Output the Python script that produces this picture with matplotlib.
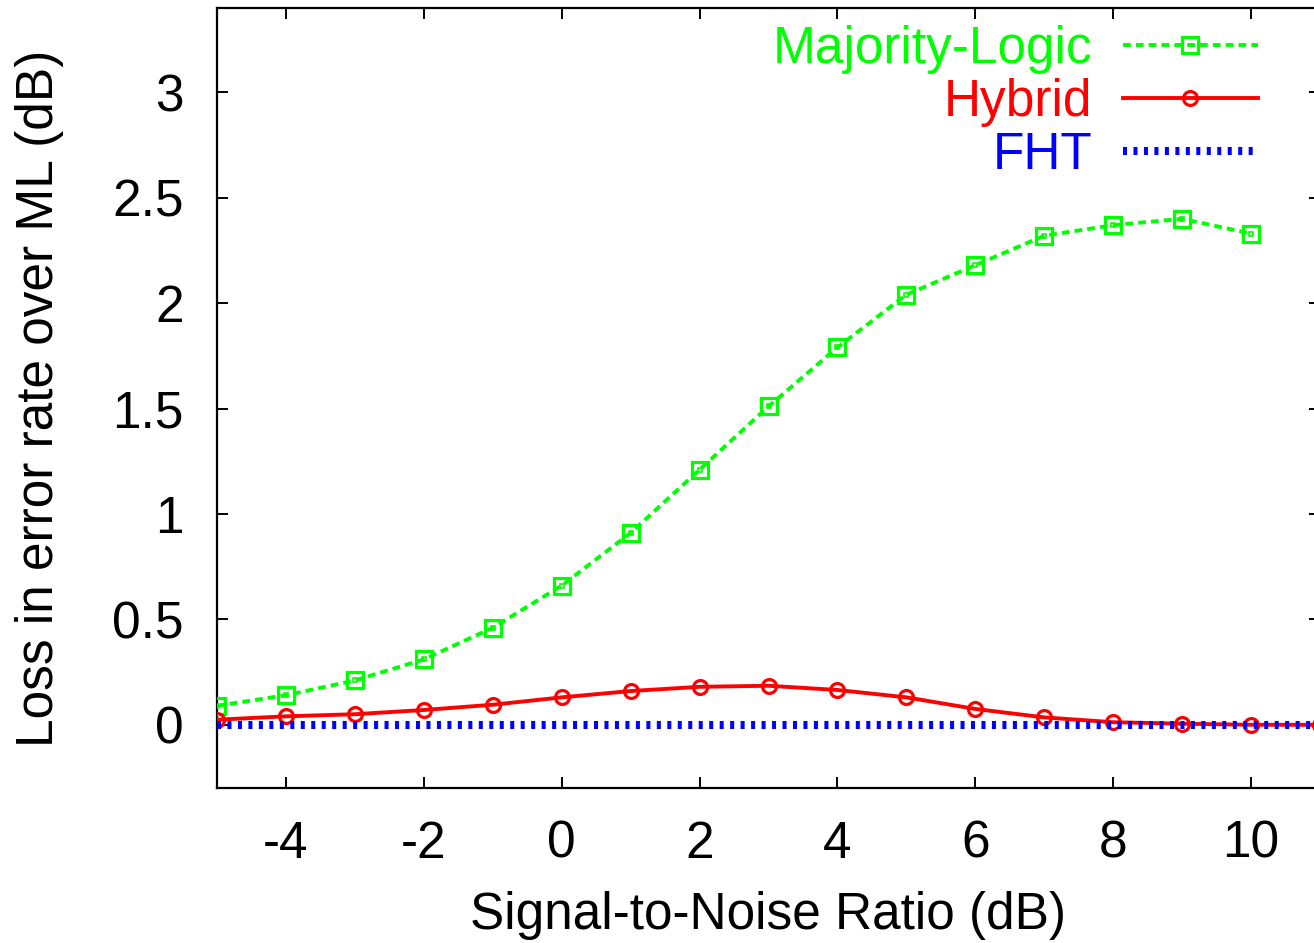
import matplotlib
matplotlib.use("Agg")
import matplotlib.pyplot as plt

snr = [-5, -4, -3, -2, -1, 0, 1, 2, 3, 4, 5, 6, 7, 8, 9, 10]
majority_logic = [0.09, 0.14, 0.21, 0.31, 0.46, 0.66, 0.91, 1.21, 1.51, 1.79,
                  2.04, 2.18, 2.32, 2.37, 2.40, 2.33]
snr_hybrid = [-5, -4, -3, -2, -1, 0, 1, 2, 3, 4, 5, 6, 7, 8, 9, 10, 11]
hybrid = [0.024, 0.04, 0.05, 0.07, 0.095, 0.13, 0.16, 0.18, 0.185, 0.165,
          0.13, 0.075, 0.035, 0.012, 0.005, 0.0, 0.0]
snr_fht = [-5, 11]
fht = [0.0, 0.0]

xticks = [-4, -2, 0, 2, 4, 6, 8, 10]
yticks = [0, 0.5, 1, 1.5, 2, 2.5, 3]
ytick_labels = ["0", "0.5", "1", "1.5", "2", "2.5", "3"]

plt.rcParams['font.family'] = ['Liberation Sans', 'DejaVu Sans']

W, H = 1314, 943
FS = 37
fig = plt.figure(figsize=(W / 100, H / 100), dpi=100)
ax = fig.add_axes([217 / W, 1 - 788 / H, (1320 - 217) / W, (788 - 8) / H])

green = '#00ff00'
red = '#ff0000'
blue = '#0000ff'

ax.plot(snr, majority_logic, color=green, linestyle=(0, (2.0, 1.3)), linewidth=2.8,
        marker='s', markersize=11, markerfacecolor='none', markeredgewidth=2.3,
        label='Majority-Logic', zorder=3)
ax.plot(snr, majority_logic, linestyle='none', marker='s', markersize=3,
        markerfacecolor='none', markeredgecolor=green, markeredgewidth=1.2, zorder=3)
ax.plot(snr_hybrid, hybrid, color=red, linestyle='-', linewidth=2.8,
        marker='o', markersize=10, markerfacecolor='none', markeredgewidth=2.3,
        label='Hybrid', zorder=3)
ax.plot(snr_fht, fht, color=blue, linestyle=(0, (0.5, 0.8)), linewidth=5.8,
        label='FHT', zorder=4)

ax.set_xlim(-5, 11)
ax.set_ylim(-0.3, 3.4)
ax.set_xticks(xticks)
ax.set_xticklabels([str(t) for t in xticks])
ax.set_yticks(yticks)
ax.set_yticklabels(ytick_labels)

for s in ax.spines.values():
    s.set_linewidth(1.6)

ax.tick_params(axis='both', direction='in', length=8, width=1.4, labelsize=FS,
               top=True, right=True)
ax.tick_params(axis='x', pad=23)
ax.tick_params(axis='y', pad=24)

ax.set_xlabel('Signal-to-Noise Ratio (dB)', fontsize=FS, labelpad=16)
ax.set_ylabel('Loss in error rate over ML (dB)', fontsize=FS, labelpad=35)

leg = ax.legend(loc='upper right', bbox_to_anchor=(1258 / W, 1 - 25 / H),
                bbox_transform=fig.transFigure, frameon=False, fontsize=FS,
                markerfirst=False, numpoints=1, handlelength=2.63,
                handletextpad=0.6, labelspacing=0.08, borderaxespad=0,
                borderpad=0, labelcolor='linecolor')

fig.savefig('out.png', dpi=100)
